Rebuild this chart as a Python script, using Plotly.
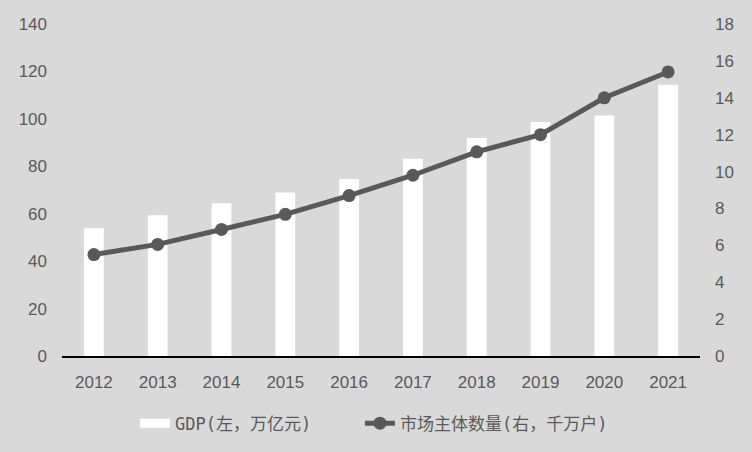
import plotly.graph_objects as go

years = ["2012", "2013", "2014", "2015", "2016", "2017", "2018", "2019", "2020", "2021"]
gdp = [53.9, 59.3, 64.4, 68.9, 74.6, 83.2, 91.9, 98.7, 101.4, 114.4]
entities = [5.5, 6.05, 6.86, 7.68, 8.7, 9.8, 11.07, 12.0, 14.0, 15.4]
left_ticks = [0, 20, 40, 60, 80, 100, 120, 140]
right_ticks = [0, 2, 4, 6, 8, 10, 12, 14, 16, 18]

bg = "#d9d9d9"
txt = "#595959"

fig = go.Figure()
fig.add_trace(go.Bar(
    x=years, y=gdp, name="GDP(左，万亿元)",
    marker=dict(color="#ffffff", line=dict(width=0)),
    width=0.31, yaxis="y", showlegend=False,
))
# legend-only entry for the bars (wide white swatch)
fig.add_trace(go.Scatter(
    x=[None], y=[None], name="GDP(左，万亿元)", mode="lines",
    line=dict(color="#ffffff", width=9), yaxis="y", legend="legend",
))
fig.add_trace(go.Scatter(
    x=years, y=entities, name="市场主体数量(右，千万户)",
    mode="lines+markers",
    line=dict(color="#595959", width=5),
    marker=dict(color="#595959", size=13),
    yaxis="y2", legend="legend2",
))

legend_font = dict(family="DejaVu Sans Mono, Noto Sans CJK SC", size=17, color=txt)

fig.update_layout(
    width=752, height=452,
    paper_bgcolor=bg, plot_bgcolor=bg,
    margin=dict(l=62, r=52, t=24, b=95),
    font=dict(family="Liberation Sans, Arial", color=txt, size=16),
    xaxis=dict(
        type="category", range=[-0.5, 9.5], showgrid=False, showline=True,
        linecolor="#000000", linewidth=2, ticks="",
        tickfont=dict(size=17, color=txt), zeroline=False,
        ticklabelstandoff=10,
    ),
    yaxis=dict(
        range=[0, 140], tickvals=left_ticks, showgrid=False, zeroline=False,
        showline=False, ticks="", tickfont=dict(size=17, color=txt),
        ticklabelstandoff=14,
    ),
    yaxis2=dict(
        range=[0, 18], tickvals=right_ticks, overlaying="y", side="right",
        showgrid=False, zeroline=False, showline=False, ticks="",
        tickfont=dict(size=17, color=txt), ticklabelstandoff=14,
    ),
    legend=dict(
        orientation="h", x=0.1144, xanchor="left", y=-0.2, yanchor="middle",
        font=legend_font, bgcolor="rgba(0,0,0,0)",
    ),
    legend2=dict(
        orientation="h", x=0.467, xanchor="left", y=-0.2, yanchor="middle",
        font=legend_font, bgcolor="rgba(0,0,0,0)",
    ),
)

fig.write_html(
    "out.html",
    config={"displayModeBar": False},
    post_script="document.body.style.margin='0';document.body.style.overflow='hidden';",
)
